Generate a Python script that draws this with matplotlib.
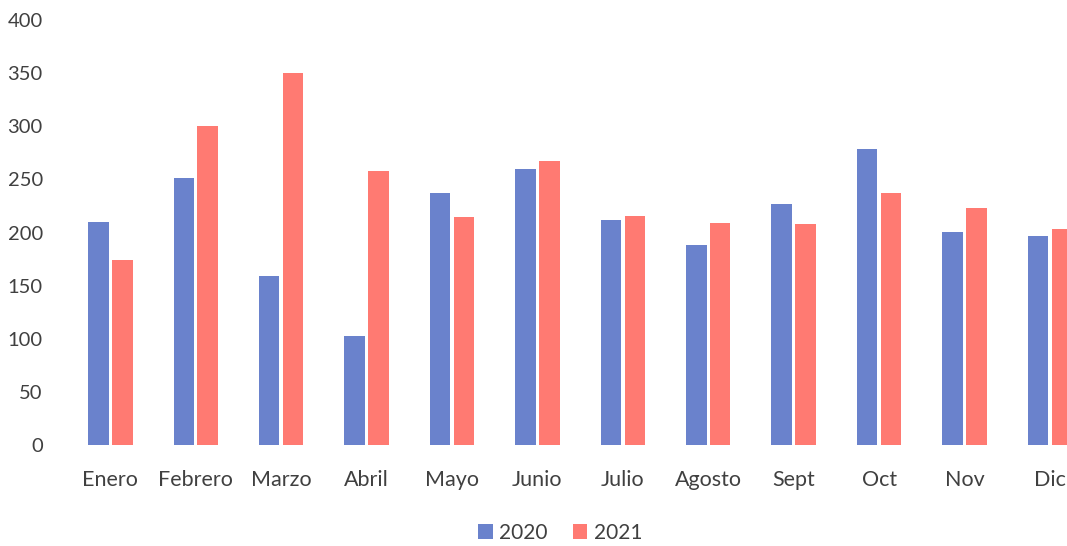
import numpy as np
import matplotlib.pyplot as plt

months = ['Enero', 'Febrero', 'Marzo', 'Abril', 'Mayo', 'Junio',
          'Julio', 'Agosto', 'Sept', 'Oct', 'Nov', 'Dic']
v2020 = [210, 251, 159, 103, 237, 260, 212, 188, 227, 279, 201, 197]
v2021 = [174, 300, 350, 258, 215, 267, 216, 209, 208, 237, 223, 203]
yticks = [0, 50, 100, 150, 200, 250, 300, 350, 400]

blue = '#6A82CC'
red = '#FF7A72'
txt = '#404040'

plt.rcParams['font.family'] = ['Lato', 'DejaVu Sans']

fig = plt.figure(figsize=(10.67, 5.46), dpi=100)
ax = fig.add_axes([0.061, 0.185, 0.939, 0.778])

x = np.arange(len(months))
w = 0.24
ax.bar(x - 0.14, v2020, w, color=blue, label='2020')
ax.bar(x + 0.14, v2021, w, color=red, label='2021')

ax.set_xlim(-0.53, 11.2)
ax.set_ylim(0, 400)
ax.set_yticks(yticks)
ax.set_xticks(x)
ax.set_xticklabels(months)
ax.tick_params(length=0, labelsize=14.5, colors=txt)
ax.tick_params(axis='x', pad=18, labelsize=15.5)
ax.tick_params(axis='y', pad=16)
for s in ax.spines.values():
    s.set_visible(False)

fig.legend(loc='center', bbox_to_anchor=(0.525, 0.024), ncol=2, frameon=False,
           fontsize=15, handlelength=0.7, handleheight=0.7, handletextpad=0.3,
           columnspacing=1.2, labelcolor=txt)

fig.savefig('out.png', dpi=100)
